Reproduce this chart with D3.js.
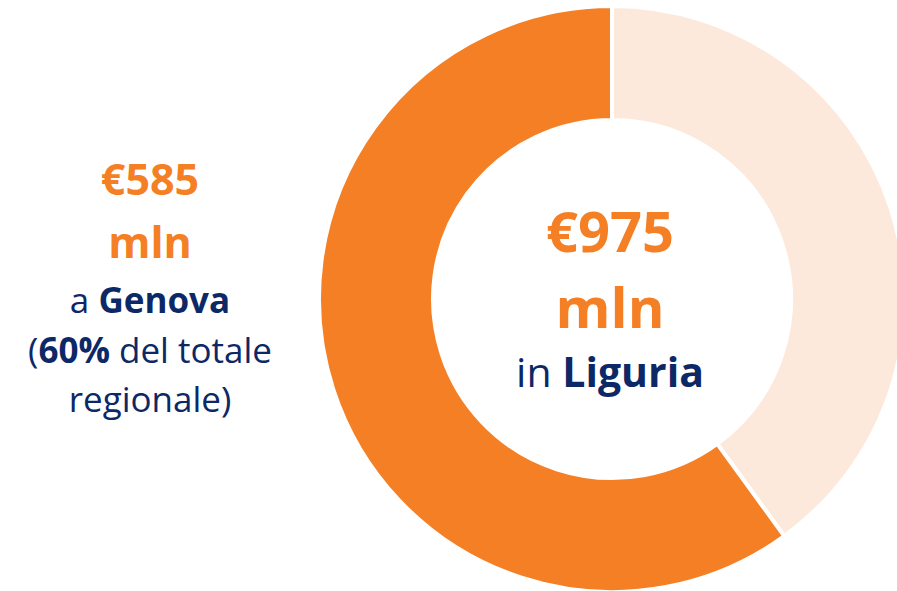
<!DOCTYPE html>
<html>
<head>
<meta charset="utf-8">
<script src="https://cdn.jsdelivr.net/npm/d3@7"></script>
<style>
  body { margin: 0; background: #fff; }
  svg { display: block; font-family: "Open Sans", "Noto Sans", sans-serif; }
</style>
</head>
<body>
<svg id="chart"></svg>
<script>
// data: remaining share first so the light slice starts at 12 o'clock
const categories = ["Resto della Liguria", "Genova"];
const values = [390, 585];
const total = 975;
const colors = ["#fce9dc", "#f47f24"];

const ORANGE = "#f47f24", NAVY = "#0d2866";
const WIDTH = 897, HEIGHT = 591;
const CX = 612, CY = 299, R_OUT = 293, R_IN = 179;

const svg = d3.select("#chart")
  .attr("width", WIDTH)
  .attr("height", HEIGHT);

const pie = d3.pie().sort(null).value(d => d.value);
const arcs = pie(categories.map((c, i) => ({ name: c, value: values[i] })));
const arc = d3.arc().innerRadius(R_IN).outerRadius(R_OUT);
const color = d3.scaleOrdinal(categories, colors);

const donut = svg.append("g")
  .attr("transform", `translate(${CX},${CY})`);

donut.selectAll("path")
  .data(arcs)
  .enter()
  .append("path")
  .attr("d", arc)
  .style("fill", d => color(d.data.name))
  .style("stroke", "#fff")
  .style("stroke-width", 4);

// centre label
const center = donut.append("text")
  .attr("text-anchor", "middle")
  .attr("x", -2);
center.append("tspan").attr("y", -47)
  .style("fill", ORANGE).style("font-weight", 700).style("font-size", "56px")
  .text(`€${total}`);
center.append("tspan").attr("x", -2).attr("y", 29)
  .style("fill", ORANGE).style("font-weight", 700).style("font-size", "56px")
  .text("mln");
const l3 = center.append("tspan").attr("x", -2).attr("y", 88)
  .style("fill", NAVY).style("font-size", "41px");
l3.append("tspan").text("in ");
l3.append("tspan").style("font-weight", 700).text("Liguria");

// left label
const genova = values[1];
const pct = Math.round(genova / total * 100);
const left = svg.append("text")
  .attr("text-anchor", "middle")
  .attr("transform", "translate(150,0)");
const lines = [
  [{ t: `€${genova}`, b: true, c: ORANGE, s: 43 }],
  [{ t: "mln", b: true, c: ORANGE, s: 43 }],
  [{ t: "a ", c: NAVY, s: 35 }, { t: "Genova", b: true, c: NAVY, s: 35 }],
  [{ t: "(", c: NAVY, s: 35 }, { t: `${pct}%`, b: true, c: NAVY, s: 35 }, { t: " del totale", c: NAVY, s: 35 }],
  [{ t: "regionale)", c: NAVY, s: 35 }]
];
const baselines = [195, 258, 313, 363, 412];
lines.forEach((parts, i) => {
  const line = left.append("tspan").attr("x", 0).attr("y", baselines[i]);
  parts.forEach(p => {
    line.append("tspan")
      .style("fill", p.c)
      .style("font-size", p.s + "px")
      .style("font-weight", p.b ? 700 : 400)
      .text(p.t);
  });
});
</script>
</body>
</html>
